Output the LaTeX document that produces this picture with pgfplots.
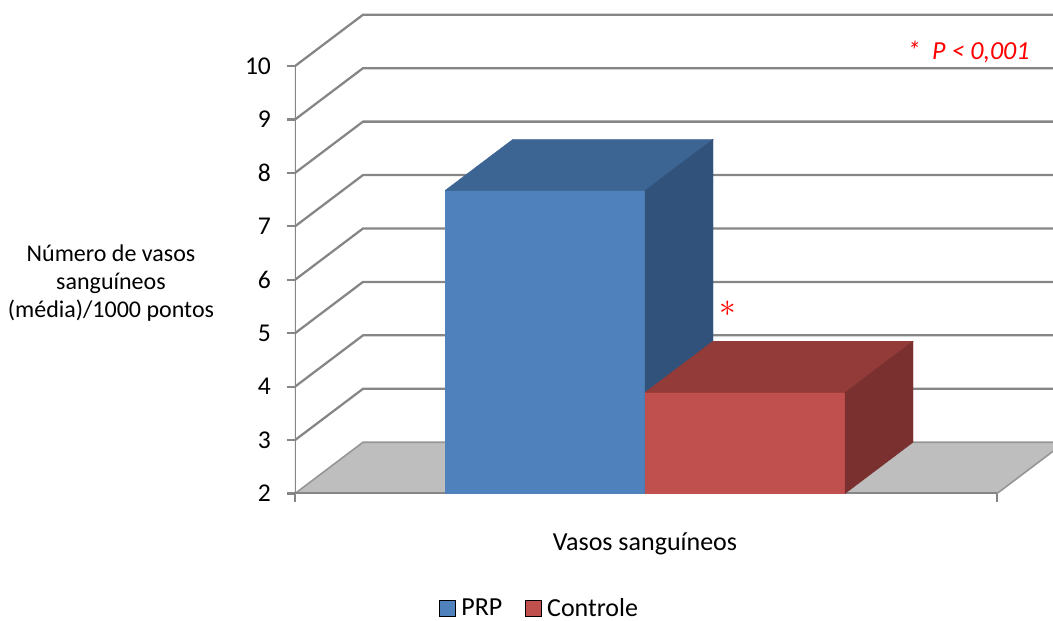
\documentclass[border=0pt]{standalone}
\usepackage{fontspec}
\setmainfont{Carlito}
\usepackage{pgfplots}
\pgfplotsset{compat=1.18}

\definecolor{gridgray}{RGB}{134,134,134}
\definecolor{floorfill}{RGB}{190,190,190}
\definecolor{floordraw}{RGB}{150,150,150}
\definecolor{prpfront}{RGB}{79,129,189}
\definecolor{prptop}{RGB}{61,101,148}
\definecolor{prpside}{RGB}{49,82,122}
\definecolor{ctlfront}{RGB}{192,80,77}
\definecolor{ctltop}{RGB}{147,59,57}
\definecolor{ctlside}{RGB}{122,48,46}

% bar values (mean vessels per 1000 points)
\def\valPRP{7.67}
\def\valCtl{3.89}
% oblique depth offset: horizontal (x units) and vertical (value units)
\def\dx{68}
\def\dv{0.96}

\newcommand{\ylbl}{\fontsize{18}{21}\selectfont}
\newcommand{\lbl}{\fontsize{19.5}{22}\selectfont}

\begin{document}%
\begin{tikzpicture}
\pgfmathsetmacro\bPRP{\valPRP+\dv}
\pgfmathsetmacro\bCtl{\valCtl+\dv}
\pgfmathsetmacro\bBase{2+\dv}
\begin{axis}[
  at={(221.25pt,95.6pt)}, anchor=south west,
  scale only axis, width=568.5pt, height=370.1pt,
  xmin=0, xmax=758, ymin=2, ymax=11.235,
  axis line style={draw=none},
  clip mode=individual,
  ytick={2,...,10}, ytick pos=left,
  xtick={0,702}, xticklabels={}, xtick pos=bottom,
  tick align=outside, major tick length=6pt,
  tick style={gridgray, line width=1.6pt},
  every tick label/.append style={font=\fontsize{19.2}{22}\selectfont},
  yticklabel style={xshift=-8.5pt},
  /pgf/number format/assume math mode=true,
  legend columns=2,
  legend style={at={(axis cs:245,-0.15)}, anchor=center, draw=none, fill=none,
    inner sep=0pt, nodes={inner ysep=0.5pt},
    font=\lbl, /tikz/every even column/.append style={column sep=15pt}},
  legend image code/.code={\fill[#1] (0pt,-6pt) rectangle (12pt,6pt); \path (14.2pt,0pt);},
]
% back-wall gridlines with their diagonal run to the front axis
\addplot[gridgray, line width=1.7pt, forget plot] coordinates {(0,3) (\dx,3.96) (758,3.96)};
\addplot[gridgray, line width=1.7pt, forget plot] coordinates {(0,4) (\dx,4.96) (758,4.96)};
\addplot[gridgray, line width=1.7pt, forget plot] coordinates {(0,5) (\dx,5.96) (758,5.96)};
\addplot[gridgray, line width=1.7pt, forget plot] coordinates {(0,6) (\dx,6.96) (758,6.96)};
\addplot[gridgray, line width=1.7pt, forget plot] coordinates {(0,7) (\dx,7.96) (758,7.96)};
\addplot[gridgray, line width=1.7pt, forget plot] coordinates {(0,8) (\dx,8.96) (758,8.96)};
\addplot[gridgray, line width=1.7pt, forget plot] coordinates {(0,9) (\dx,9.96) (758,9.96)};
\addplot[gridgray, line width=1.7pt, forget plot] coordinates {(0,10) (\dx,10.96) (758,10.96)};
% floor
\addplot[fill=floorfill, draw=floordraw, line width=1.2pt, forget plot]
  coordinates {(0,2) (702,2) (770,\bBase) (\dx,\bBase) (0,2)};
% front axis lines
\addplot[gridgray, line width=1.7pt, forget plot] coordinates {(0,10) (0,2) (702,2)};
% PRP bar
\addplot[fill=prpfront, draw=prpfront, line width=0.3pt, forget plot]
  coordinates {(150,2) (350,2) (350,\valPRP) (150,\valPRP) (150,2)};
\addplot[fill=prptop, draw=prptop, line width=0.3pt, forget plot]
  coordinates {(150,\valPRP) (350,\valPRP) (418,\bPRP) (218,\bPRP) (150,\valPRP)};
\addplot[fill=prpside, draw=prpside, line width=0.3pt, forget plot]
  coordinates {(350,2) (418,\bBase) (418,\bPRP) (350,\valPRP) (350,2)};
% Controle bar
\addplot[fill=ctlfront, draw=ctlfront, line width=0.3pt, forget plot]
  coordinates {(350,2) (550,2) (550,\valCtl) (350,\valCtl) (350,2)};
\addplot[fill=ctltop, draw=ctltop, line width=0.3pt, forget plot]
  coordinates {(350,\valCtl) (550,\valCtl) (618,\bCtl) (418,\bCtl) (350,\valCtl)};
\addplot[fill=ctlside, draw=ctlside, line width=0.3pt, forget plot]
  coordinates {(550,2) (618,\bBase) (618,\bCtl) (550,\valCtl) (550,2)};

\addlegendimage{fill=prpfront}
\addlegendentry{PRP}
\addlegendimage{fill=ctlfront}
\addlegendentry{Controle}

% labels
\node[font=\ylbl, align=center] at (axis cs:-184,5.94)
  {Número de vasos\\sanguíneos\\(média)/1000 pontos};
\node[font=\lbl, anchor=base] at (axis cs:350,0.943) {Vasos sanguíneos};
\node[text=red, font=\fontsize{30}{30}\selectfont] at (axis cs:433,5.45) {$\ast$};
\node[text=red, font=\lbl\itshape, anchor=base] at (axis cs:673.5,10.13) {*\ \ P < 0,001};
\end{axis}
\pgfresetboundingbox
\path[use as bounding box] (0,0) rectangle (789.75pt,465.75pt);
\end{tikzpicture}%
\end{document}
